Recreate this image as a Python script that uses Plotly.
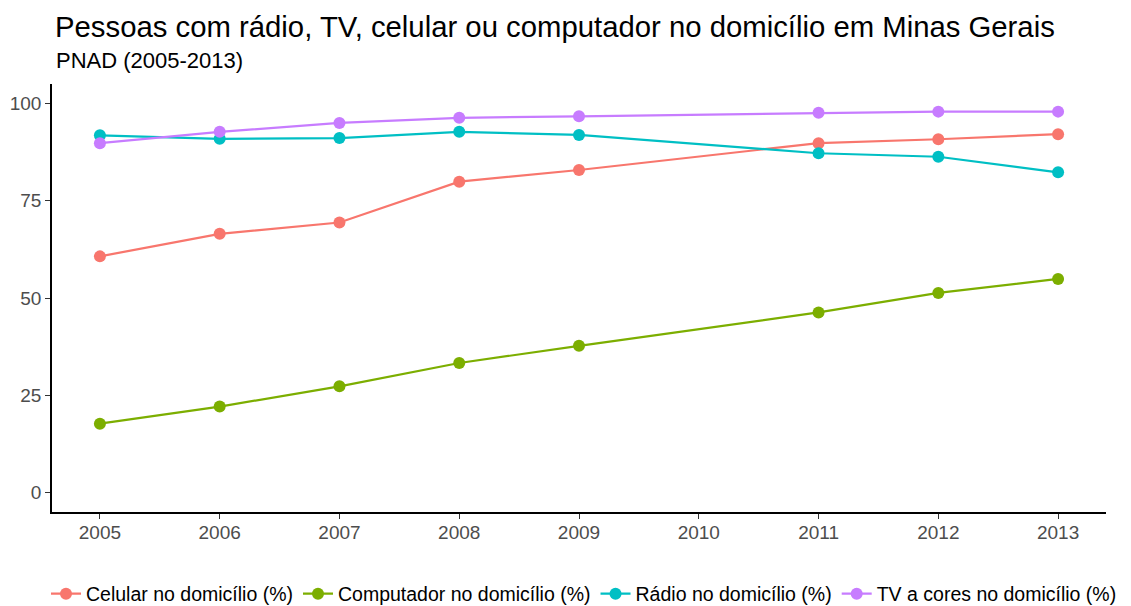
import plotly.graph_objs as go

# PNAD years (no survey in 2010)
anos = [2005, 2006, 2007, 2008, 2009, 2011, 2012, 2013]

celular = [60.7, 66.5, 69.4, 79.9, 82.9, 89.8, 90.8, 92.1]
computador = [17.7, 22.1, 27.3, 33.3, 37.7, 46.3, 51.3, 54.9]
radio = [91.8, 90.9, 91.1, 92.7, 91.9, 87.2, 86.3, 82.3]
tv_cores = [89.8, 92.7, 95.0, 96.3, 96.7, 97.6, 97.9, 97.9]

series_names = ['Celular no domicílio (%)', 'Computador no domicílio (%)',
                'Rádio no domicílio (%)', 'TV a cores no domicílio (%)']
tick_years = list(range(2005, 2014))

# ggplot default hue palette for 4 groups
colors = ['#F8766D', '#7CAE00', '#00BFC4', '#C77CFF']

traces = []
for name, values, color in zip(series_names, [celular, computador, radio, tv_cores], colors):
    traces.append(go.Scatter(
        x=anos,
        y=values,
        name=name,
        mode='lines+markers',
        line={'color': color, 'width': 2.2},
        marker={'color': color, 'size': 12},
    ))

axis_style = dict(
    showgrid=False,
    zeroline=False,
    showline=True,
    linecolor='black',
    linewidth=1.6,
    ticks='outside',
    ticklen=5,
    tickwidth=1.2,
    tickcolor='#333333',
    tickfont={'size': 19, 'color': '#4D4D4D'},
)

# the page body adds an 8px offset, so margins are shifted by that much
layout = go.Layout(
    width=1131,
    height=606,
    plot_bgcolor='white',
    paper_bgcolor='white',
    font={'family': 'Liberation Sans, Arial, sans-serif', 'color': 'black'},
    margin={'l': 44, 'r': 33, 't': 76, 'b': 102, 'autoexpand': False},
    title=dict(
        text='Pessoas com rádio, TV, celular ou computador no domicílio em Minas Gerais',
        x=47 / 1131, xanchor='left',
        y=1 - 19 / 606, yanchor='middle',
        font={'size': 29.3, 'color': 'black'},
    ),
    annotations=[dict(
        text='PNAD (2005-2013)',
        xref='paper', yref='paper',
        x=0.002, y=1 + 24 / 428,
        xanchor='left', yanchor='middle',
        showarrow=False,
        font={'size': 22, 'color': 'black'},
    )],
    xaxis=dict(axis_style, range=[2004.6, 2013.4], tickvals=tick_years,
               ticklabelstandoff=-3),
    yaxis=dict(axis_style, range=[-5, 105], tickvals=[0, 25, 50, 75, 100]),
    showlegend=True,
    legend=dict(
        orientation='h',
        x=-6 / 1054, xanchor='left',
        y=-82 / 428, yanchor='middle',
        font={'size': 19.5, 'color': 'black'},
        itemwidth=30,
        tracegroupgap=0,
    ),
)

fig = go.Figure(data=traces, layout=layout)
fig.write_html('out.html')
